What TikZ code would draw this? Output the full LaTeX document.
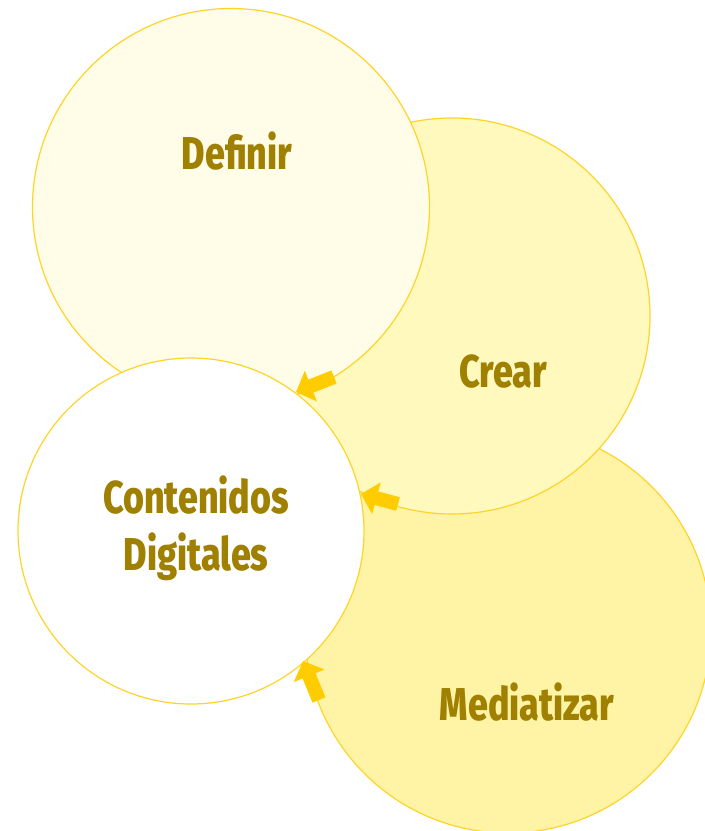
\documentclass[tikz,border=0pt]{standalone}
\usepackage{fontspec}
\setmainfont{Fira Sans}[FakeStretch=0.78, BoldFont={Fira Sans ExtraBold}, BoldFeatures={FakeStretch=0.78}]
\usetikzlibrary{arrows.meta}
\definecolor{ringline}{RGB}{255,212,40}
\definecolor{fillA}{RGB}{255,253,232}
\definecolor{fillB}{RGB}{255,249,190}
\definecolor{fillC}{RGB}{255,244,165}
\definecolor{arrowcol}{RGB}{255,204,0}
\definecolor{labelcol}{RGB}{160,128,0}
\tikzset{
  ring/.style={circle, draw=ringline, line width=1.2pt, inner sep=0pt},
  lbl/.style={text=labelcol, font=\fontsize{46}{57}\selectfont\bfseries, align=center, inner sep=0pt},
  blockarrow/.style={draw=arrowcol, line width=14pt, -{Triangle[width=32pt,length=16pt]}, arrowcol}
}
\begin{document}
\begin{tikzpicture}[x=1pt,y=-1pt]
\useasboundingbox[fill=white] (0,0) rectangle (705,831);
\node[ring, fill=fillC, minimum size=406pt] (med) at (508,630) {};
\node[ring, fill=fillB, minimum size=396pt] (cre) at (452,316) {};
\node[ring, fill=fillA, minimum size=397pt] (def) at (231,207) {};
\node[ring, fill=white, minimum size=346pt] (con) at (191,531) {};
\node[lbl] (tdef) at (237,151) {Definir};
\node[lbl] (tcre) at (503,372) {Crear};
\node[lbl] (tmed) at (527,702) {Mediatizar};
\node[lbl] (tcon) at (196,528) {Contenidos\\Digitales};
\coordinate (a1s) at (334,377);
\coordinate (a1e) at (296,392);
\coordinate (a2s) at (398,504);
\coordinate (a2e) at (361,494);
\coordinate (a3s) at (319,700);
\coordinate (a3e) at (303,661);
\draw[blockarrow] (a1s) -- (a1e);
\draw[blockarrow] (a2s) -- (a2e);
\draw[blockarrow] (a3s) -- (a3e);
\end{tikzpicture}
\end{document}
